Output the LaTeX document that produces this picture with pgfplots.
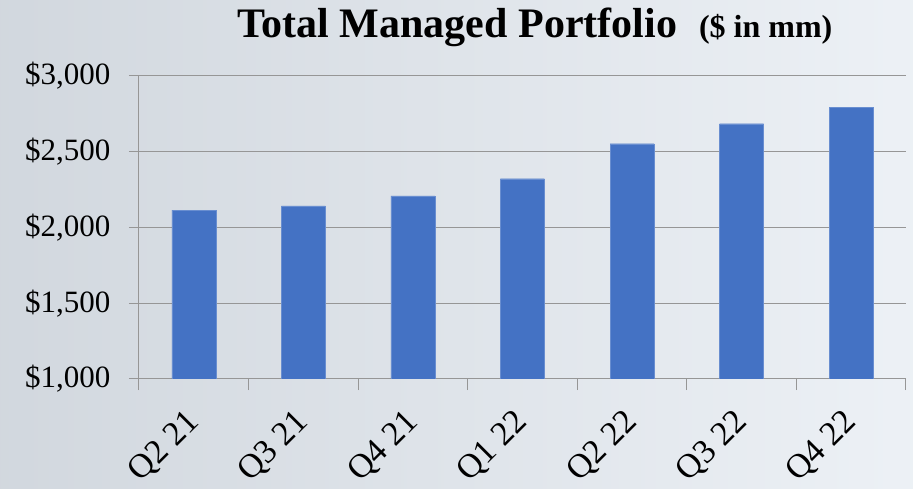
\documentclass[border=0pt]{standalone}
\usepackage{fontspec}
\setmainfont{Liberation Serif}
\usepackage{pgfplots}
\pgfplotsset{compat=1.18}
\definecolor{barblue}{RGB}{68,114,196}
\definecolor{gridgray}{RGB}{150,150,150}
\definecolor{bgcol}{RGB}{224,231,239}
\begin{document}
\begin{tikzpicture}[x=1pt,y=1pt]
\path[use as bounding box] (-139,-110) rectangle (774,379);
\fill[left color=bgcol!85!gray, right color=bgcol!60!white] (-139,-110) rectangle (774,379);
\begin{axis}[
    at={(0,0)}, anchor=south west,
    scale only axis,
    width=767pt, height=303pt,
    xmin=-0.5, xmax=6.5,
    ymin=1000, ymax=3000,
    axis x line*=bottom,
    axis y line*=left,
    axis line style={gridgray, line width=1pt, -},
    xtick={0,...,6},
    xticklabels={Q2 21,Q3 21,Q4 21,Q1 22,Q2 22,Q3 22,Q4 22},
    major x tick style={draw=none},
    minor xtick={-0.5,0.5,...,6.5},
    minor x tick style={gridgray, line width=1pt},
    minor tick length=11pt,
    xticklabel style={font=\fontsize{34}{40}\selectfont, xshift=3pt, yshift=-26pt, rotate=45, anchor=east},
    ytick={1000,1500,2000,2500,3000},
    yticklabels={{\$1,000},{\$1,500},{\$2,000},{\$2,500},{\$3,000}},
    yticklabel style={font=\fontsize{31}{36}\selectfont, xshift=-15pt},
    major y tick style={gridgray, line width=1pt},
    major tick length=10pt,
    tick align=outside,
    ymajorgrids,
    major grid style={gridgray, line width=1pt},
    ybar, bar width=44pt,
]
\addplot[fill=barblue, draw=barblue!80!white] coordinates {
(0,2115) (1,2143) (2,2209) (3,2322) (4,2553) (5,2685) (6,2792)
};
\end{axis}
\node[anchor=base, inner sep=0pt] at (396,341) {\fontsize{42}{48}\selectfont\bfseries Total Managed Portfolio\hspace{22pt}{\fontsize{32}{36}\selectfont(\$ in mm)}};
\end{tikzpicture}
\end{document}
